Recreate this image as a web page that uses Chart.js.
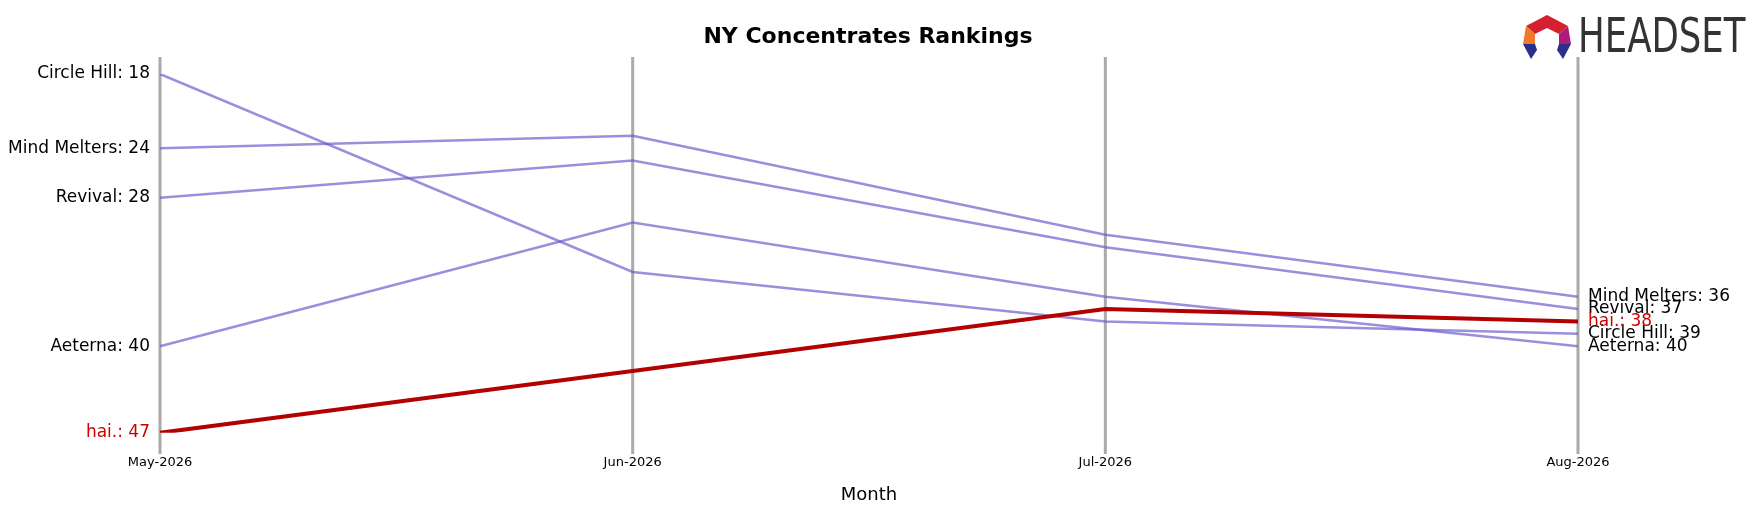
<!DOCTYPE html>
<html><head><meta charset="utf-8">
<script src="https://cdn.jsdelivr.net/npm/chart.js@4"></script>
<style>html,body{margin:0;padding:0;background:#fff}#wrap{width:1761px;height:506px}</style>
</head><body><div id="wrap"><canvas id="c"></canvas></div>
<script>
const months = ["May-2026", "Jun-2026", "Jul-2026", "Aug-2026"];
const brands = ["Circle Hill", "Mind Melters", "Revival", "Aeterna", "hai."];
const circleHill = [18, 34, 38, 39];
const mindMelters = [24, 23, 31, 36];
const revival = [28, 25, 32, 37];
const aeterna = [40, 30, 36, 40];
const hai = [47, 42, 37, 38];
const series = [circleHill, mindMelters, revival, aeterna, hai];

const labelPlugin = {
  id: "labels",
  beforeDatasetsDraw(chart) {
    const ctx = chart.ctx, x = chart.scales.x;
    ctx.save();
    ctx.strokeStyle = "#aaaaaa"; ctx.lineWidth = 3;
    months.forEach((m, i) => {
      const px = x.getPixelForValue(i);
      ctx.beginPath(); ctx.moveTo(px, 57); ctx.lineTo(px, 454); ctx.stroke();
    });
    ctx.restore();
  },
  afterDatasetsDraw(chart) {
    const ctx = chart.ctx, x = chart.scales.x, y = chart.scales.y;
    ctx.save();
    ctx.font = "17px 'DejaVu Sans'";
    ctx.textBaseline = "middle";
    chart.data.datasets.forEach((ds, i) => {
      ctx.fillStyle = ds.label === "hai." ? "#cc0000" : "#000";
      const d = ds.data;
      ctx.textAlign = "right";
      ctx.fillText(ds.label + ": " + d[0], x.getPixelForValue(0) - 10, y.getPixelForValue(d[0]));
      ctx.textAlign = "left";
      ctx.fillText(ds.label + ": " + d[3], x.getPixelForValue(3) + 10, y.getPixelForValue(d[3]));
    });
    // title
    ctx.fillStyle = "#000"; ctx.textAlign = "center";
    ctx.font = "bold 22px 'DejaVu Sans'";
    ctx.fillText("NY Concentrates Rankings", 868, 37);
    // logo
    const cx = 1547, cy = 38;
    ctx.fillStyle = "#d4202f";
    ctx.beginPath(); ctx.moveTo(cx - 21, cy - 12); ctx.lineTo(cx, cy - 23); ctx.lineTo(cx + 21, cy - 12);
    ctx.lineTo(cx + 12, cy - 4); ctx.lineTo(cx, cy - 10); ctx.lineTo(cx - 12, cy - 4); ctx.closePath(); ctx.fill();
    ctx.fillStyle = "#f07a2a";
    ctx.beginPath(); ctx.moveTo(cx - 21, cy - 12); ctx.lineTo(cx - 12, cy - 4); ctx.lineTo(cx - 12, cy + 6); ctx.lineTo(cx - 24, cy + 6); ctx.closePath(); ctx.fill();
    ctx.fillStyle = "#b01a7a";
    ctx.beginPath(); ctx.moveTo(cx + 21, cy - 12); ctx.lineTo(cx + 12, cy - 4); ctx.lineTo(cx + 12, cy + 6); ctx.lineTo(cx + 24, cy + 6); ctx.closePath(); ctx.fill();
    ctx.fillStyle = "#2a2f8a";
    ctx.beginPath(); ctx.moveTo(cx - 24, cy + 6); ctx.lineTo(cx - 12, cy + 6); ctx.lineTo(cx - 10, cy + 12); ctx.lineTo(cx - 16, cy + 21); ctx.closePath(); ctx.fill();
    ctx.beginPath(); ctx.moveTo(cx + 24, cy + 6); ctx.lineTo(cx + 12, cy + 6); ctx.lineTo(cx + 10, cy + 12); ctx.lineTo(cx + 16, cy + 21); ctx.closePath(); ctx.fill();
    ctx.fillStyle = "#333"; ctx.textAlign = "left";
    ctx.translate(1578, 38); ctx.scale(0.74, 1);
    ctx.font = "48px 'DejaVu Sans'";
    ctx.fillText("HEADSET", 0, 2);
    ctx.restore();
  }
};

const datasets = brands.map((b, i) => ({
  label: b,
  data: series[i],
  borderColor: b === "hai." ? "#b30000" : "rgba(106,90,205,0.68)",
  borderWidth: b === "hai." ? 4 : 2.5,
  pointRadius: 0,
  tension: 0,
  order: b === "hai." ? 0 : 1
}));

new Chart(document.getElementById("c"), {
  type: "line",
  data: { labels: months, datasets },
  plugins: [labelPlugin],
  options: {
    responsive: true,
    maintainAspectRatio: false,
    animation: false,
    layout: { padding: { left: 160, right: 183, top: 74, bottom: 0 } },
    plugins: { legend: { display: false }, tooltip: { enabled: false } },
    scales: {
      x: {
        offset: false,
        grid: { display: false },
        border: { display: false },
        ticks: { color: "#000", font: { size: 13, family: "DejaVu Sans" }, maxRotation: 0, padding: 14 },
        title: { display: true, text: "Month", color: "#000", font: { size: 18, family: "DejaVu Sans" }, padding: 0 }
      },
      y: { display: false, reverse: true, min: 18, max: 47 }
    }
  }
});
</script></body></html>
